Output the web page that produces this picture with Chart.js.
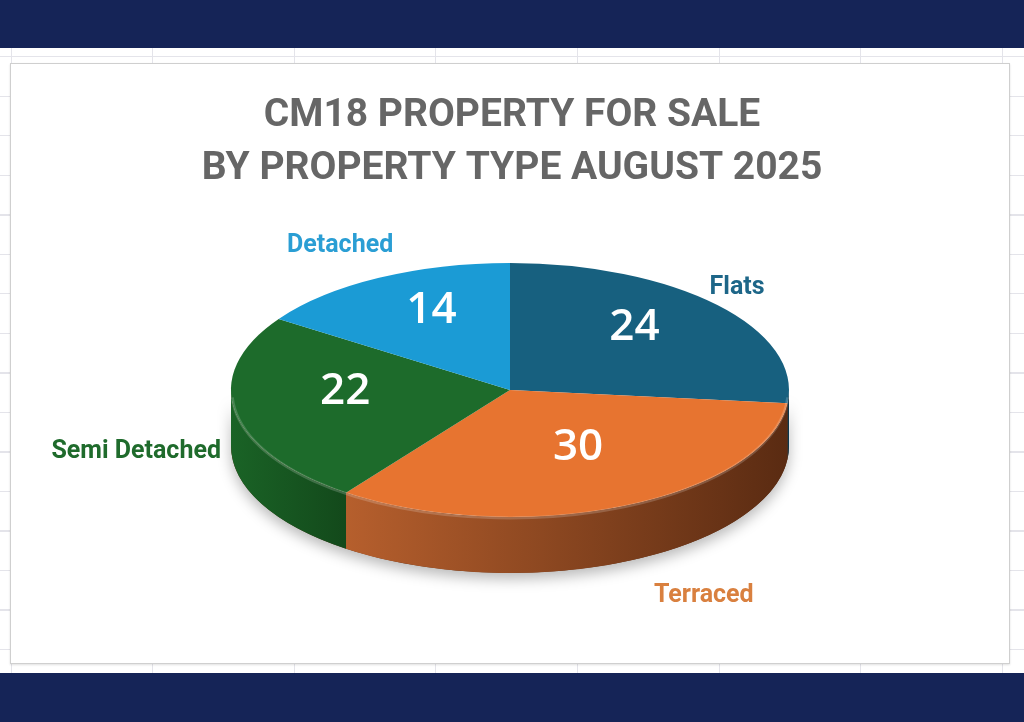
<!DOCTYPE html>
<html>
<head>
<meta charset="utf-8">
<script src="https://cdn.jsdelivr.net/npm/chart.js@4.4.1/dist/chart.umd.min.js"></script>
<style>
  html, body { margin: 0; padding: 0; }
  body {
    width: 1024px; height: 722px; overflow: hidden; position: relative;
    background-color: #ffffff;
    background-image:
      repeating-linear-gradient(to right, transparent 0, transparent 10.6px, #e4e4ea 10.6px, #e4e4ea 11.6px, transparent 11.6px, transparent 141.6px),
      repeating-linear-gradient(to bottom, transparent 0, transparent 17px, #e4e4ea 17px, #e4e4ea 18px, transparent 18px, transparent 39.5px);
  }
  .bar { position: absolute; left: 0; width: 1024px; background: #152457; }
  .top { top: 0; height: 48px; }
  .bottom { top: 673px; height: 49px; }
  .box {
    position: absolute; left: 10px; top: 63px; width: 998px; height: 599px;
    background: #fff; border: 1px solid #cfcfcf;
    box-shadow: 0 1px 2px rgba(0,0,0,0.12);
  }
  canvas { position: absolute; left: 0; top: 0; }
</style>
</head>
<body>
<div class="bar top"></div>
<div class="box"></div>
<div class="bar bottom"></div>
<canvas id="pie" width="1024" height="722"></canvas>
<script>
const categories = ["Flats", "Terraced", "Semi Detached", "Detached"]
const counts = [24, 30, 22, 14]
const titleLines = ["CM18 PROPERTY FOR SALE", "BY PROPERTY TYPE AUGUST 2025"]

const topColors = ["#17607f", "#e77430", "#1d6b2b", "#1b9bd5"]
const sideColors = [["#0f4058", "#0b3347"], ["#b65f2d", "#5a2b12"], ["#1a6326", "#13491b"], ["#137aa8", "#0f5f83"]]
const labelColors = ["#1d6688", "#d9803f", "#1f6b2c", "#2a9ed4"]

// where the tilted pie sits on the page
const pie = { cx: 510, cy: 390, rx: 279, ry: 127, depth: 56 }

function sliceRange(arc) {
  // visible front side of the disc is between 0 and PI
  let a = Math.max(arc.startAngle, 0)
  let b = Math.min(arc.endAngle, Math.PI)
  return b > a ? [a, b] : null
}

const tiltPlugin = {
  id: "tilt",
  beforeDatasetsDraw(chart) {
    const ctx = chart.ctx
    const arcs = chart.getDatasetMeta(0).data
    // shadow under the disc
    ctx.save()
    ctx.shadowColor = "rgba(0,0,0,0.28)"
    ctx.shadowBlur = 14
    ctx.shadowOffsetY = 6
    ctx.beginPath()
    ctx.ellipse(pie.cx, pie.cy, pie.rx, pie.ry, 0, 0, Math.PI)
    ctx.ellipse(pie.cx, pie.cy + pie.depth, pie.rx, pie.ry, 0, Math.PI, 0, true)
    ctx.closePath()
    ctx.fillStyle = "#5a2b12"
    ctx.fill()
    ctx.restore()

    // the sides of each slice
    arcs.forEach((arc, i) => {
      const r = sliceRange(arc)
      if (!r) return
      const x1 = pie.cx + pie.rx * Math.cos(r[1])
      const x0 = pie.cx + pie.rx * Math.cos(r[0])
      const g = ctx.createLinearGradient(Math.min(x0, x1), 0, Math.max(x0, x1), 0)
      g.addColorStop(0, sideColors[i][0])
      g.addColorStop(1, sideColors[i][1])
      ctx.beginPath()
      ctx.ellipse(pie.cx, pie.cy, pie.rx, pie.ry, 0, r[0], r[1])
      ctx.ellipse(pie.cx, pie.cy + pie.depth, pie.rx, pie.ry, 0, r[1], r[0], true)
      ctx.closePath()
      ctx.fillStyle = g
      ctx.fill()
    })

    // squash the pie drawn by chart.js onto the ellipse
    const a0 = arcs[0]
    ctx.save()
    ctx.translate(pie.cx, pie.cy)
    ctx.scale(pie.rx / a0.outerRadius, pie.ry / a0.outerRadius)
    ctx.translate(-a0.x, -a0.y)
  },
  afterDatasetsDraw(chart) {
    const ctx = chart.ctx
    ctx.restore()
    // soft light rim along the front edge
    ctx.save()
    ctx.beginPath()
    ctx.ellipse(pie.cx, pie.cy + 1, pie.rx - 1, pie.ry, 0, 0.05, Math.PI - 0.05)
    ctx.strokeStyle = "rgba(255,255,255,0.18)"
    ctx.lineWidth = 3
    ctx.stroke()
    ctx.restore()
  },
  afterDraw(chart) {
    const ctx = chart.ctx
    const arcs = chart.getDatasetMeta(0).data
    ctx.save()
    ctx.textBaseline = "middle"
    arcs.forEach((arc, i) => {
      const mid = (arc.startAngle + arc.endAngle) / 2
      const c = Math.cos(mid), s = Math.sin(mid)
      // value inside the slice
      ctx.fillStyle = "#ffffff"
      ctx.textAlign = "center"
      ctx.font = "600 44px 'Open Sans', sans-serif"
      ctx.fillText(String(counts[i]), pie.cx + pie.rx * 0.6 * c, pie.cy + pie.ry * 0.6 * s - 12)
      // category name outside, pushed past the rim (front ones further out)
      let x = pie.cx + 283 * c + Math.sign(c) * (25 * s + 6)
      let y = pie.cy + pie.depth / 2 + (pie.ry + pie.depth / 2 + 40) * s
      ctx.textAlign = c > 0.2 ? "left" : (c < -0.2 ? "right" : "center")
      ctx.fillStyle = labelColors[i]
      ctx.font = "bold 25px Roboto, sans-serif"
      ctx.fillText(categories[i], x, y)
    })
    ctx.restore()
  }
}

const chart = new Chart(document.getElementById("pie"), {
  type: "pie",
  data: {
    labels: categories,
    datasets: [{
      data: counts,
      backgroundColor: topColors,
      borderWidth: 0,
    }]
  },
  options: {
    responsive: false,
    animation: false,
    layout: { padding: { top: 0, left: 0, right: 0, bottom: 60 } },
    plugins: {
      legend: { display: false },
      tooltip: { enabled: false },
      title: {
        display: true,
        text: titleLines,
        color: "#666666",
        font: { family: "Roboto, sans-serif", size: 39, weight: "bold", lineHeight: 1.36 },
        padding: { top: 90, bottom: 20 }
      }
    }
  },
  plugins: [tiltPlugin]
})
</script>
</body>
</html>
